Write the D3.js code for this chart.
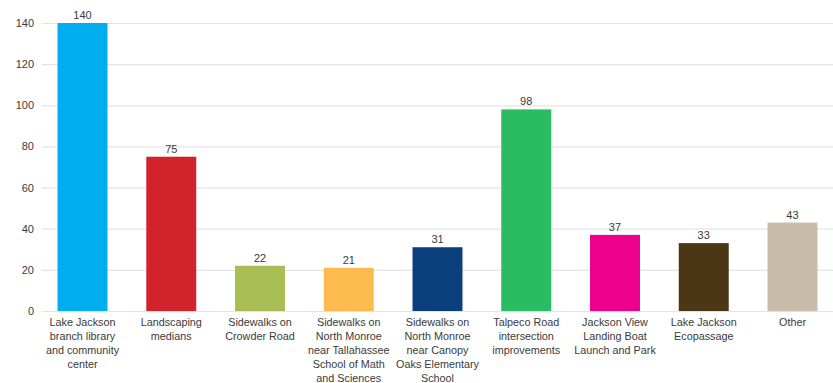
<!DOCTYPE html>
<html><head><meta charset="utf-8">
<script src="https://cdn.jsdelivr.net/npm/d3@7"></script>
<style>body{margin:0;background:#fff}svg{display:block}text{font-family:"Liberation Sans",Arial,sans-serif}</style>
</head><body><svg id="c" width="833" height="383"></svg>
<script>
const categories = [
  ["Lake Jackson","branch library","and community","center"],
  ["Landscaping","medians"],
  ["Sidewalks on","Crowder Road"],
  ["Sidewalks on","North Monroe","near Tallahassee","School of Math","and Sciences"],
  ["Sidewalks on","North Monroe","near Canopy","Oaks Elementary","School"],
  ["Talpeco Road","intersection","improvements"],
  ["Jackson View","Landing Boat","Launch and Park"],
  ["Lake Jackson","Ecopassage"],
  ["Other"]
];
const values = [140, 75, 22, 21, 31, 98, 37, 33, 43];
const colors = ["#00AEEF","#D2232A","#A9BD55","#FDBA4F","#0B3F7D","#2BBC62","#EC008C","#4B3716","#C9BCAA"];
const yTicks = [0,20,40,60,80,100,120,140];

const svg = d3.select("#c");
const x = d3.scaleBand().domain(d3.range(values.length)).range([38, 837]).paddingInner(0.437).paddingOuter(0.22);
const y = d3.scaleLinear().domain([0,140]).range([311, 23]);

const yAxis = svg.append("g").attr("transform","translate(42,0)")
  .call(d3.axisLeft(y).tickValues(yTicks).tickSize(-800).tickPadding(8));
yAxis.select(".domain").remove();
yAxis.selectAll(".tick line").attr("stroke","#e4e4e4").attr("stroke-width",1.2);
yAxis.selectAll(".tick text").attr("fill","#3a3a3a").style("font-size","11px");

svg.append("g").selectAll("rect").data(values).join("rect")
  .attr("x",(d,i)=>x(i)).attr("width",x.bandwidth())
  .attr("y",d=>y(d)).attr("height",d=>y(0)-y(d))
  .attr("fill",(d,i)=>colors[i]);

svg.append("g").selectAll("text").data(values).join("text")
  .attr("x",(d,i)=>x(i)+x.bandwidth()/2).attr("y",d=>y(d)-4)
  .attr("text-anchor","middle").attr("fill","#3a3a3a").style("font-size","11px")
  .text(d=>d);

const lab = svg.append("g").selectAll("text").data(categories).join("text")
  .attr("text-anchor","middle").attr("fill","#3a3a3a").style("font-size","10.8px")
  .attr("transform",(d,i)=>`translate(${x(i)+x.bandwidth()/2},326)`);
lab.selectAll("tspan").data(d=>d).join("tspan")
  .attr("x",0).attr("dy",(d,j)=>j===0?0:14).text(d=>d);
</script></body></html>
